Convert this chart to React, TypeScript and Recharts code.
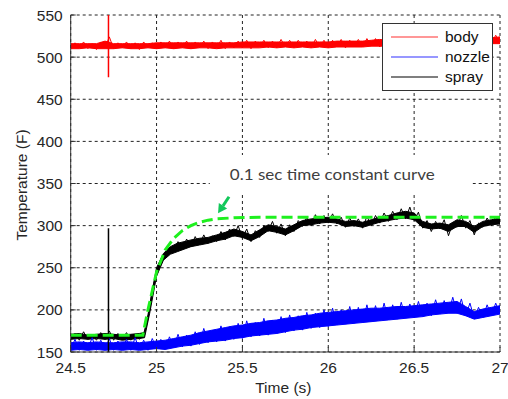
import React from 'react';
import {
  ComposedChart,
  Area,
  Line,
  XAxis,
  YAxis,
  CartesianGrid,
  Legend,
  ReferenceArea,
  ReferenceLine,
} from 'recharts';

// ---------- data ----------
const TIME = [24.5, 24.55, 24.6, 24.65, 24.7, 24.75, 24.8, 24.85, 24.9, 24.95, 25, 25.05, 25.1, 25.15, 25.2, 25.25, 25.3, 25.35, 25.4, 25.45, 25.5, 25.55, 25.6, 25.65, 25.7, 25.75, 25.8, 25.85, 25.9, 25.95, 26, 26.05, 26.1, 26.15, 26.2, 26.25, 26.3, 26.35, 26.4, 26.45, 26.5, 26.55, 26.6, 26.65, 26.7, 26.75, 26.8, 26.85, 26.9, 26.95, 27];

const BODY_LOW = [510, 510, 511, 510, 510, 510, 511, 510, 510, 511, 510, 511, 510, 511, 510, 511, 511, 510, 511, 511, 511, 511, 511, 512, 511, 512, 511, 512, 511, 512, 511, 512, 512, 512, 512, 513, 513, 513, 514, 513, 514, 514, 514, 515, 514, 515, 515, 515, 515, 516, 516];
const BODY_HIGH = [516, 516, 516, 516, 519, 516, 516, 516, 516, 516, 517, 517, 517, 517, 517, 517, 517, 517, 517, 517, 518, 518, 518, 518, 518, 518, 518, 518, 518, 518, 518, 519, 519, 519, 519, 520, 521, 520, 521, 521, 522, 521, 522, 522, 522, 523, 522, 523, 523, 523, 524];

const NOZZLE_LOW = [152, 153, 152, 153, 152, 153, 152, 153, 152, 153, 154, 153, 155, 157, 158, 160, 162, 163, 164, 166, 167, 169, 170, 171, 172, 174, 176, 177, 179, 180, 181, 182, 183, 184, 185, 186, 187, 188, 189, 190, 191, 192, 194, 195, 196, 196, 193, 189, 191, 193, 195];
const NOZZLE_HIGH = [161, 162, 161, 162, 161, 161, 162, 162, 161, 162, 163, 164, 166, 168, 170, 173, 175, 177, 179, 181, 182, 184, 185, 187, 188, 190, 191, 193, 194, 196, 197, 198, 199, 200, 201, 202, 202, 203, 204, 204, 205, 206, 207, 208, 209, 210, 204, 198, 201, 203, 205];

const SPRAY_TIME = [24.5, 24.55, 24.6, 24.65, 24.7, 24.75, 24.8, 24.85, 24.9, 24.93, 24.96, 25, 25.04, 25.08, 25.12, 25.16, 25.2, 25.25, 25.3, 25.35, 25.4, 25.45, 25.5, 25.55, 25.6, 25.65, 25.7, 25.75, 25.8, 25.85, 25.9, 25.95, 26, 26.05, 26.1, 26.15, 26.2, 26.25, 26.3, 26.35, 26.4, 26.45, 26.5, 26.55, 26.6, 26.65, 26.7, 26.75, 26.8, 26.85, 26.9, 26.95, 27];
const SPRAY_LOW = [165, 166, 165, 166, 165, 166, 164, 165, 166, 167, 196, 240, 259, 266, 269, 272, 275, 277, 279, 282, 284, 288, 286, 282, 287, 294, 292, 289, 294, 300, 301, 303, 304, 303, 299, 300, 298, 301, 304, 306, 308, 309, 307, 298, 296, 297, 293, 299, 299, 292, 299, 301, 302];
const SPRAY_HIGH = [171, 172, 170, 171, 172, 171, 170, 171, 172, 173, 205, 250, 267, 275, 279, 281, 283, 285, 286, 289, 292, 296, 293, 289, 295, 301, 299, 296, 301, 306, 308, 309, 310, 308, 305, 306, 304, 307, 310, 312, 315, 317, 315, 305, 302, 303, 301, 307, 305, 299, 305, 307, 309];

// dense noise traces (sampled every 0.025 s)
const NOISE_TIME = [24.5, 24.525, 24.55, 24.575, 24.6, 24.625, 24.65, 24.675, 24.7, 24.725, 24.75, 24.775, 24.8, 24.825, 24.85, 24.875, 24.9, 24.925, 24.95, 24.975, 25, 25.025, 25.05, 25.075, 25.1, 25.125, 25.15, 25.175, 25.2, 25.225, 25.25, 25.275, 25.3, 25.325, 25.35, 25.375, 25.4, 25.425, 25.45, 25.475, 25.5, 25.525, 25.55, 25.575, 25.6, 25.625, 25.65, 25.675, 25.7, 25.725, 25.75, 25.775, 25.8, 25.825, 25.85, 25.875, 25.9, 25.925, 25.95, 25.975, 26, 26.025, 26.05, 26.075, 26.1, 26.125, 26.15, 26.175, 26.2, 26.225, 26.25, 26.275, 26.3, 26.325, 26.35, 26.375, 26.4, 26.425, 26.45, 26.475, 26.5, 26.525, 26.55, 26.575, 26.6, 26.625, 26.65, 26.675, 26.7, 26.725, 26.75, 26.775, 26.8, 26.825, 26.85, 26.875, 26.9, 26.925, 26.95, 26.975, 27];
const BODY_NOISE = [510, 517, 511, 518, 510, 516, 509, 518, 511, 524, 510, 517, 511, 518, 510, 517, 509, 518, 511, 517, 510, 518, 511, 519, 510, 518, 511, 519, 510, 518, 511, 519, 510, 518, 511, 520, 510, 518, 511, 519, 511, 520, 510, 519, 512, 520, 511, 519, 511, 521, 512, 520, 511, 520, 512, 519, 511, 521, 512, 520, 511, 520, 512, 521, 511, 520, 512, 521, 512, 522, 513, 522, 512, 523, 513, 522, 514, 524, 513, 523, 514, 524, 513, 523, 514, 525, 515, 524, 514, 525, 515, 524, 514, 525, 515, 526, 515, 525, 516, 526, 516];
const NOZZLE_NOISE = [153, 165, 152, 163, 154, 167, 152, 164, 153, 166, 152, 163, 153, 165, 152, 167, 153, 164, 152, 166, 154, 165, 153, 168, 155, 171, 156, 170, 157, 174, 159, 178, 161, 176, 162, 181, 163, 180, 165, 184, 166, 187, 168, 185, 169, 190, 170, 188, 172, 192, 173, 194, 175, 193, 176, 197, 178, 196, 179, 200, 180, 202, 182, 200, 183, 204, 184, 203, 185, 206, 186, 205, 187, 208, 188, 206, 189, 209, 190, 207, 191, 210, 192, 208, 193, 212, 195, 211, 196, 215, 196, 213, 193, 208, 190, 203, 191, 206, 193, 208, 195];
const SPRAY_NOISE = [165, 172, 164, 174, 165, 171, 164, 173, 165, 175, 164, 172, 165, 173, 164, 171, 165, 172, 190, 225, 245, 258, 264, 274, 270, 281, 272, 284, 275, 287, 277, 289, 279, 288, 281, 293, 283, 296, 287, 300, 285, 296, 281, 294, 286, 300, 293, 305, 291, 302, 288, 301, 293, 306, 299, 310, 300, 313, 302, 312, 303, 314, 302, 310, 298, 309, 299, 308, 297, 311, 300, 312, 303, 315, 305, 317, 307, 320, 308, 322, 306, 316, 297, 306, 293, 305, 296, 307, 288, 303, 298, 312, 297, 306, 289, 303, 298, 309, 300, 311, 301];

// the 0.1 s time-constant fit (green dashed)
const FIT_TIME = [24.5, 24.92, 24.95, 25, 25.05, 25.1, 25.15, 25.2, 25.25, 25.3, 25.35, 25.45, 25.6, 27];
const FIT_VALUE = [170, 170, 200, 245, 271, 285, 294, 300, 304, 306.5, 308, 309.3, 310, 310];

// spikes at t ≈ 24.72
const BODY_SPIKE_TIME = [24.72, 24.72];
const BODY_SPIKE_VALUE = [476, 550];
const SPRAY_SPIKE_TIME = [24.72, 24.72];
const SPRAY_SPIKE_VALUE = [150, 297];

const X_TICKS = [24.5, 25, 25.5, 26, 26.5, 27];
const Y_TICKS = [150, 200, 250, 300, 350, 400, 450, 500, 550];

const LEGEND_NAMES = ['body', 'nozzle', 'spray'];
const LEGEND_COLORS = ['#ff3030', '#3030ff', '#000000'];

// annotation
const NOTE_TEXT = '0.1 sec time constant curve';
const NOTE_BOX_X = [25.31, 26.84];
const NOTE_BOX_Y = [336.4, 383.8];
const ARROW_FROM = { x: 25.422, y: 334.3 };
const ARROW_TO = { x: 25.358, y: 314.6 };

// ---------- styling ----------
const FONT = '"Liberation Sans", Arial, sans-serif';
const TICK_STYLE = { fontFamily: FONT, fontSize: 15.5, fill: '#262626' };
const RED = '#ff0000';
const BLUE = '#0000ff';
const BLACK = '#000000';
const GREEN = '#1ef01e';
const ARROW = '#12c85a';

const bodyRows = TIME.map((t, i) => ({ t, v: [BODY_LOW[i], BODY_HIGH[i]] }));
const nozzleRows = TIME.map((t, i) => ({ t, v: [NOZZLE_LOW[i], NOZZLE_HIGH[i]] }));
const sprayRows = SPRAY_TIME.map((t, i) => ({ t, v: [SPRAY_LOW[i], SPRAY_HIGH[i]] }));
const bodyNoiseRows = NOISE_TIME.map((t, i) => ({ t, v: BODY_NOISE[i] }));
const nozzleNoiseRows = NOISE_TIME.map((t, i) => ({ t, v: NOZZLE_NOISE[i] }));
const sprayNoiseRows = NOISE_TIME.map((t, i) => ({ t, v: SPRAY_NOISE[i] }));
const fitRows = FIT_TIME.map((t, i) => ({ t, v: FIT_VALUE[i] }));
const bodySpikeRows = BODY_SPIKE_TIME.map((t, i) => ({ t, v: BODY_SPIKE_VALUE[i] }));
const spraySpikeRows = SPRAY_SPIKE_TIME.map((t, i) => ({ t, v: SPRAY_SPIKE_VALUE[i] }));

function LegendBox() {
  return (
    <div
      style={{
        boxSizing: 'border-box',
        width: 111,
        height: 68,
        border: '1px solid #333',
        background: '#fff',
        paddingTop: 3,
        fontFamily: FONT,
        fontSize: 15.5,
        color: '#111',
      }}
    >
      {LEGEND_NAMES.map((n, i) => (
        <div key={n} style={{ display: 'flex', alignItems: 'center', height: 20 }}>
          <svg width={62} height={20} style={{ display: 'block' }}>
            <line x1={8} x2={55} y1={10} y2={10} stroke={LEGEND_COLORS[i]} strokeWidth={1.2} />
          </svg>
          <span style={{ lineHeight: '20px' }}>{n}</span>
        </div>
      ))}
    </div>
  );
}

const XLabel = (p: any) => {
  const vb = p.viewBox;
  return (
    <text x={vb.x + vb.width / 2 - 2} y={vb.y + 41} textAnchor="middle" style={TICK_STYLE}>
      Time (s)
    </text>
  );
};

const YLabel = (p: any) => {
  const vb = p.viewBox;
  const x = vb.x + 26.7;
  const y = vb.y + vb.height / 2 + 1.5;
  return (
    <text x={x} y={y} transform={`rotate(-90, ${x}, ${y})`} textAnchor="middle" style={TICK_STYLE}>
      Temperature (F)
    </text>
  );
};

const NoteLabel = (p: any) => {
  const vb = p.viewBox;
  return (
    <text
      x={vb.x + 20}
      y={vb.y + vb.height / 2 - 1}
      dominantBaseline="central"
      textLength={205}
      lengthAdjust="spacingAndGlyphs"
      style={{ fontFamily: 'Lato, "Open Sans", sans-serif', fontSize: 16, fill: '#404040' }}
    >
      {NOTE_TEXT}
    </text>
  );
};

const ArrowShape = (p: any) => {
  const { x1, y1, x2, y2 } = p;
  if ([x1, y1, x2, y2].some((v) => typeof v !== 'number')) return null;
  const dx = x2 - x1;
  const dy = y2 - y1;
  const len = Math.hypot(dx, dy) || 1;
  const ux = dx / len;
  const uy = dy / len;
  const hl = 9;
  const hw = 5;
  const bx = x2 - ux * hl;
  const by = y2 - uy * hl;
  return (
    <g>
      <line x1={x1} y1={y1} x2={bx} y2={by} stroke={ARROW} strokeWidth={3} />
      <polygon
        points={`${x2},${y2} ${bx - uy * hw},${by + ux * hw} ${bx + uy * hw},${by - ux * hw}`}
        fill={ARROW}
      />
    </g>
  );
};

const bandProps = (color: string) => ({
  type: 'linear' as const,
  stroke: color,
  strokeWidth: 1,
  fill: color,
  fillOpacity: 1,
  dot: false,
  activeDot: false,
  isAnimationActive: false,
});

const lineProps = (color: string, w: number) => ({
  type: 'linear' as const,
  stroke: color,
  strokeWidth: w,
  dot: false,
  activeDot: false,
  legendType: 'none' as const,
  isAnimationActive: false,
});

export default function App() {
  return (
    <div style={{ width: 508, height: 399, overflow: 'hidden' }}>
      <style>{'html,body{margin:0;padding:0;overflow:hidden;}'}</style>
      <ComposedChart width={508} height={399} margin={{ top: 15, right: 8, bottom: 0, left: 0 }}>
        <CartesianGrid stroke="#222" strokeDasharray="3 3" />
        <XAxis
          xAxisId={0}
          dataKey="t"
          type="number"
          domain={[24.5, 27]}
          ticks={X_TICKS}
          allowDataOverflow
          height={47}
          tickSize={-5}
          tickMargin={15}
          tick={TICK_STYLE}
          interval={0}
          axisLine={{ stroke: '#333' }}
          tickLine={{ stroke: '#333' }}
          label={XLabel}
        />
        <XAxis
          xAxisId="top"
          orientation="top"
          dataKey="t"
          type="number"
          domain={[24.5, 27]}
          ticks={X_TICKS}
          allowDataOverflow
          height={0}
          tickSize={-5}
          tick={false}
          axisLine={{ stroke: '#333' }}
          tickLine={{ stroke: '#333' }}
        />
        <YAxis
          yAxisId={0}
          type="number"
          domain={[150, 550]}
          ticks={Y_TICKS}
          allowDataOverflow
          width={70.7}
          tickSize={-5}
          tickMargin={13}
          tick={TICK_STYLE}
          interval={0}
          axisLine={{ stroke: '#333' }}
          tickLine={{ stroke: '#333' }}
          label={YLabel}
        />
        <YAxis
          yAxisId="right"
          orientation="right"
          type="number"
          domain={[150, 550]}
          ticks={Y_TICKS}
          allowDataOverflow
          width={0}
          tickSize={-5}
          tick={false}
          axisLine={{ stroke: '#333' }}
          tickLine={{ stroke: '#333' }}
        />
        <ReferenceArea
          x1={NOTE_BOX_X[0]}
          x2={NOTE_BOX_X[1]}
          y1={NOTE_BOX_Y[0]}
          y2={NOTE_BOX_Y[1]}
          fill="#ffffff"
          fillOpacity={1}
          stroke="none"
          label={NoteLabel}
        />
        <Area data={bodyRows} dataKey="v" name="body" {...bandProps(RED)} />
        <Area data={nozzleRows} dataKey="v" name="nozzle" {...bandProps(BLUE)} />
        <Area data={sprayRows} dataKey="v" name="spray" {...bandProps(BLACK)} />
        <Line data={bodyNoiseRows} dataKey="v" {...lineProps(RED, 1)} />
        <Line data={nozzleNoiseRows} dataKey="v" {...lineProps(BLUE, 1)} />
        <Line data={sprayNoiseRows} dataKey="v" {...lineProps(BLACK, 1)} />
        <Line data={bodySpikeRows} dataKey="v" {...lineProps(RED, 1.5)} />
        <Line data={spraySpikeRows} dataKey="v" {...lineProps(BLACK, 1.5)} />
        <Line data={fitRows} dataKey="v" {...lineProps(GREEN, 3)} strokeDasharray="11 5" />
        <ReferenceLine segment={[ARROW_FROM, ARROW_TO]} shape={ArrowShape} />
        <Legend
          layout="vertical"
          align="center"
          verticalAlign="middle"
          content={LegendBox}
          wrapperStyle={{ left: 382, top: 23, width: 111, height: 68 }}
        />
      </ComposedChart>
    </div>
  );
}
